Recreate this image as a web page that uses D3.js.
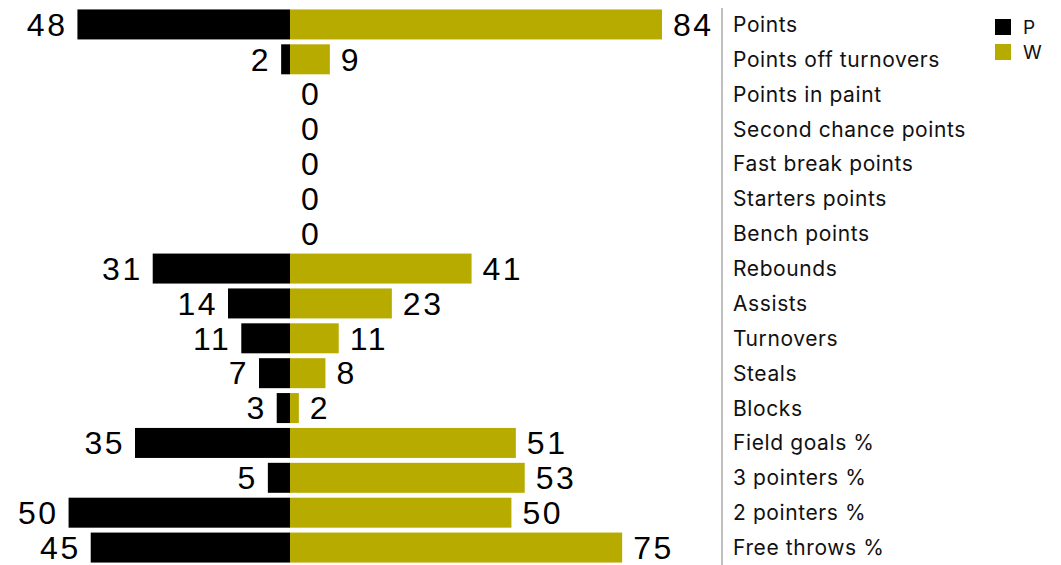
<!DOCTYPE html>
<html>
<head>
<meta charset="utf-8">
<script src="https://cdn.jsdelivr.net/npm/d3@7"></script>
<style>
  body { margin: 0; background: #fff; }
  .val { font-family: "Liberation Sans", Arial, sans-serif; font-size: 32px; letter-spacing: 2.5px; fill: #000; }
  .cat { font-family: Inter, "Open Sans", sans-serif; font-size: 21px; letter-spacing: 0.6px; fill: #111; }
</style>
</head>
<body>
<div id="chart"></div>
<script>
var categories = ["Points", "Points off turnovers", "Points in paint", "Second chance points",
  "Fast break points", "Starters points", "Bench points", "Rebounds", "Assists", "Turnovers",
  "Steals", "Blocks", "Field goals %", "3 pointers %", "2 pointers %", "Free throws %"];
var pValues = [48, 2, 0, 0, 0, 0, 0, 31, 14, 11, 7, 3, 35, 5, 50, 45];
var wValues = [84, 9, 0, 0, 0, 0, 0, 41, 23, 11, 8, 2, 51, 53, 50, 75];
var seriesNames = ["P", "W"];
var seriesColors = ["#000000", "#b8ab00"];

var svgWidth = 1061;
var svgHeight = 565;
var center = 290;

var svg = d3.select("#chart")
  .append("svg")
  .attr("width", svgWidth)
  .attr("height", svgHeight);

var data = categories.map(function(c, i) {
  return { cat: c, p: pValues[i], w: wValues[i] };
});

// scales
var y = d3.scaleBand()
  .domain(categories)
  .range([7, 565])
  .paddingInner(0.14)
  .paddingOuter(0.07);

var xRight = d3.scaleLinear().domain([0, 84]).range([center, 662]);
var xLeft = d3.scaleLinear().domain([0, 50]).range([center, center - (xRight(50) - center)]);

// P bars (left)
svg.selectAll(".barP")
  .data(data)
  .enter()
  .append("rect")
  .attr("class", "barP")
  .attr("x", d => xLeft(d.p))
  .attr("y", d => y(d.cat))
  .attr("width", d => center - xLeft(d.p))
  .attr("height", y.bandwidth())
  .attr("fill", seriesColors[0]);

// W bars (right)
svg.selectAll(".barW")
  .data(data)
  .enter()
  .append("rect")
  .attr("class", "barW")
  .attr("x", center)
  .attr("y", d => y(d.cat))
  .attr("width", d => xRight(d.w) - center)
  .attr("height", y.bandwidth())
  .attr("fill", seriesColors[1]);

// value labels
svg.selectAll(".lblP")
  .data(data.filter(d => d.p > 0))
  .enter()
  .append("text")
  .attr("class", "val")
  .attr("x", d => xLeft(d.p) - 10)
  .attr("y", d => y(d.cat) + y.bandwidth() / 2)
  .attr("dy", "0.35em")
  .attr("text-anchor", "end")
  .text(d => d.p);

svg.selectAll(".lblW")
  .data(data)
  .enter()
  .append("text")
  .attr("class", "val")
  .attr("x", d => xRight(d.w) + 11)
  .attr("y", d => y(d.cat) + y.bandwidth() / 2)
  .attr("dy", "0.35em")
  .text(d => d.w);

// separator
svg.append("line")
  .attr("x1", 722).attr("x2", 722)
  .attr("y1", 8).attr("y2", 565)
  .attr("stroke", "#aaa")
  .attr("stroke-width", 1.5);

// category labels
svg.selectAll(".cat")
  .data(categories)
  .enter()
  .append("text")
  .attr("class", "cat")
  .attr("x", 733)
  .attr("y", d => y(d) + y.bandwidth() / 2)
  .attr("dy", "0.36em")
  .text(d => d);

// legend
var legend = svg.selectAll(".legend")
  .data(seriesNames)
  .enter()
  .append("g")
  .attr("transform", (d, i) => `translate(995, ${19 + i * 25})`);

legend.append("rect")
  .attr("width", 16)
  .attr("height", 16)
  .attr("fill", (d, i) => seriesColors[i]);

legend.append("text")
  .attr("class", "cat")
  .attr("x", 28)
  .attr("y", 8)
  .attr("dy", "0.35em")
  .style("font-size", "19px")
  .text(d => d);
</script>
</body>
</html>
